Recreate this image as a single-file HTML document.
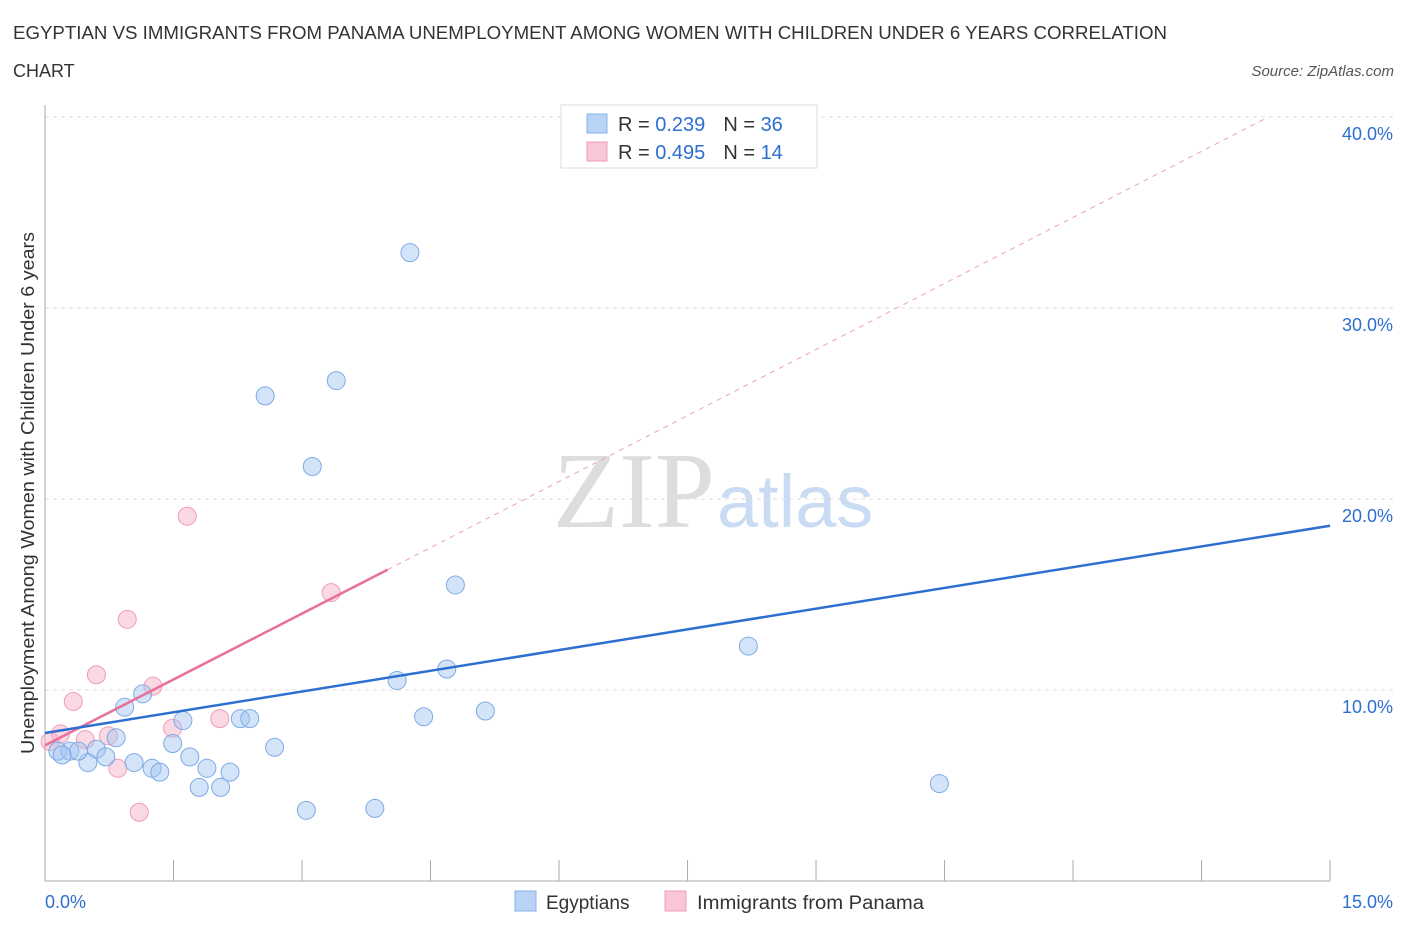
<!DOCTYPE html>
<html><head><meta charset="utf-8"><style>
body{margin:0;background:#fff;font-family:"Liberation Sans",sans-serif}
svg{display:block}
</style></head><body>
<svg id="chart" width="1406" height="930" xmlns="http://www.w3.org/2000/svg" font-family="Liberation Sans, sans-serif">
<text x="13" y="39" font-size="18" fill="#333" textLength="1154" lengthAdjust="spacingAndGlyphs">EGYPTIAN VS IMMIGRANTS FROM PANAMA UNEMPLOYMENT AMONG WOMEN WITH CHILDREN UNDER 6 YEARS CORRELATION</text>
<text x="13" y="77" font-size="18" fill="#333">CHART</text>
<text x="1394" y="76" font-size="15" fill="#555" text-anchor="end" font-style="italic">Source: ZipAtlas.com</text>
<text x="715" y="527" font-size="108" text-anchor="end" fill="#ddd" font-family="Liberation Serif, serif">ZIP</text>
<text x="717" y="527" font-size="74" fill="#c9dcf3">atlas</text>
<g id="grid"></g><g id="axes"></g><g id="marks"></g>
<text transform="translate(34,493) rotate(-90)" font-size="18" fill="#333" text-anchor="middle" textLength="522" lengthAdjust="spacingAndGlyphs">Unemployment Among Women with Children Under 6 years</text>
<g>
<rect x="561" y="105" width="256" height="63" fill="#fff" stroke="#ddd"/>
<rect x="587" y="114" width="20" height="19" fill="#b9d3f6" stroke="#86b1ea"/>
<rect x="587" y="142" width="20" height="19" fill="#f9c6d5" stroke="#ef9cb5"/>
<text x="618" y="131" font-size="20" fill="#333">R = <tspan fill="#2c6fd1"> 0.239</tspan><tspan dx="18">N = </tspan><tspan fill="#2c6fd1">36</tspan></text>
<text x="618" y="159" font-size="20" fill="#333">R = <tspan fill="#2c6fd1">0.495</tspan><tspan dx="18">N = </tspan><tspan fill="#2c6fd1"> 14</tspan></text>
</g>
<g>
<rect x="515" y="891" width="21" height="20" fill="#b9d3f6" stroke="#86b1ea"/>
<text x="546" y="909" font-size="19" fill="#333">Egyptians</text>
<rect x="665" y="891" width="21" height="20" fill="#f9c6d5" stroke="#ef9cb5"/>
<text x="697" y="909" font-size="19" fill="#333" textLength="227" lengthAdjust="spacingAndGlyphs">Immigrants from Panama</text>
</g>
</svg>
<script>
const blueX=[4.26,2.57,3.40,3.12,4.79,8.21,4.69,4.11,4.42,5.14,10.44,3.85,3.05,1.14,0.93,1.61,2.28,2.39,0.83,1.49,2.68,0.60,0.71,1.69,1.04,0.50,1.25,1.34,1.89,2.16,1.80,2.05,0.15,0.29,0.39,0.20];
const blueY=[32.9,25.4,26.2,21.7,15.5,12.3,11.1,10.5,8.6,8.9,5.1,3.8,3.7,9.8,9.1,8.4,8.5,8.5,7.5,7.2,7.0,6.9,6.5,6.5,6.2,6.2,5.9,5.7,5.9,5.7,4.9,4.9,6.8,6.8,6.8,6.6];
const pinkX=[1.66,3.34,0.96,0.60,1.26,0.33,2.04,1.49,0.18,0.74,0.47,0.85,1.10,0.06];
const pinkY=[19.1,15.1,13.7,10.8,10.2,9.4,8.5,8.0,7.7,7.6,7.4,5.9,3.6,7.3];
const blueTrend=[[0,7.75],[15,18.6]];
const pinkTrend=[[0,7.1],[4.0,16.3]];
const pinkDash=[[4.0,16.3],[14.28,40]];
const yTicks=[10,20,30,40];
const xTickVals=[0,1.5,3,4.5,6,7.5,9,10.5,12,13.5,15];
const NS="http://www.w3.org/2000/svg";
const sx=v=>45+v*85.67, sy=v=>881-v*19.1;
function mk(t,a,p){const e=document.createElementNS(NS,t);for(const k in a)e.setAttribute(k,a[k]);p.appendChild(e);return e;}
const grid=document.getElementById('grid'),axes=document.getElementById('axes'),marks=document.getElementById('marks');
yTicks.forEach(v=>{
 const l=mk('line',{x1:45,x2:1394,y1:sy(v),y2:sy(v),stroke:'#ddd','stroke-dasharray':'4,4'},grid);
 
 
 const t=mk('text',{x:1393,y:sy(v)+23,'font-size':18,fill:'#2c6fd1','text-anchor':'end'},axes);
 t.textContent=v.toFixed(1)+'%';
 
 
});
let a=mk('line',{x1:45,x2:45,y1:105,y2:881,stroke:'#aaa'},axes);


a=mk('line',{x1:45,x2:1330,y1:881,y2:881,stroke:'#aaa'},axes);


xTickVals.forEach(v=>{const l=mk('line',{x1:sx(v),x2:sx(v),y1:860,y2:881,stroke:'#aaa'},axes);
 
 });
let t=mk('text',{x:45,y:908,'font-size':18,fill:'#2c6fd1'},axes);t.textContent='0.0%';


t=mk('text',{x:1393,y:908,'font-size':18,fill:'#2c6fd1','text-anchor':'end'},axes);t.textContent='15.0%';


pinkX.forEach((x,i)=>{const c=mk('circle',{cx:sx(x),cy:sy(pinkY[i]),r:9,fill:'rgba(246,170,195,0.45)',stroke:'#ef9cb5','stroke-width':1},marks);
 
 });
blueX.forEach((x,i)=>{const c=mk('circle',{cx:sx(x),cy:sy(blueY[i]),r:9,fill:'rgba(160,195,240,0.45)',stroke:'#7eaae6','stroke-width':1},marks);
 
 });
let l=mk('line',{x1:sx(pinkDash[0][0]),y1:sy(pinkDash[0][1]),x2:sx(pinkDash[1][0]),y2:sy(pinkDash[1][1]),stroke:'#eaa0b8','stroke-dasharray':'5,5','stroke-width':1},marks);


l=mk('line',{x1:sx(pinkTrend[0][0]),y1:sy(pinkTrend[0][1]),x2:sx(pinkTrend[1][0]),y2:sy(pinkTrend[1][1]),stroke:'#e8709a','stroke-width':2.5},marks);


l=mk('line',{x1:sx(blueTrend[0][0]),y1:sy(blueTrend[0][1]),x2:sx(blueTrend[1][0]),y2:sy(blueTrend[1][1]),stroke:'#2c6fd1','stroke-width':2.5},marks);


</script>
</body></html>
